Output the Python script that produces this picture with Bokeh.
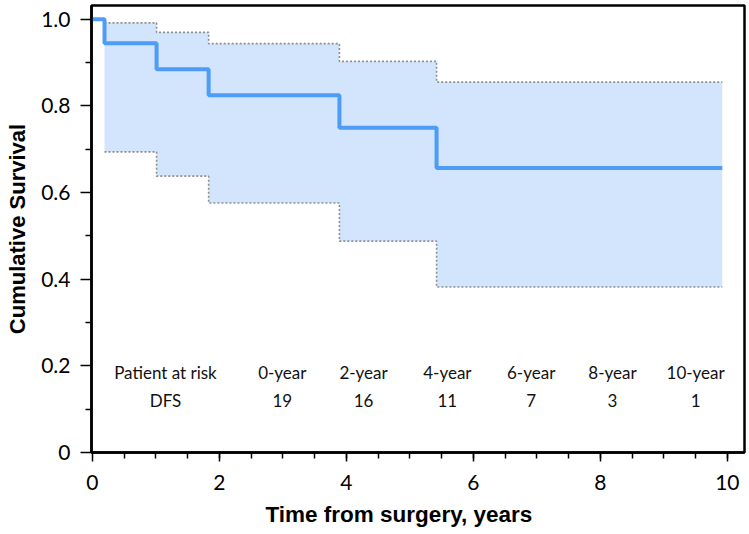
from bokeh.plotting import figure
from bokeh.models import Range1d, FixedTicker, Label, Title
from bokeh.embed import file_html
from bokeh.resources import INLINE

# Kaplan-Meier estimate (disease-free survival)
event_times = [0.0, 0.19, 1.01, 1.83, 3.89, 5.42]
survival = [1.0, 0.945, 0.885, 0.825, 0.75, 0.657]
follow_up_end = 9.92

# 95% confidence band, one value per interval starting at band_times[i]
band_times = [0.19, 1.01, 1.83, 3.89, 5.42]
ci_upper = [0.992, 0.97, 0.944, 0.903, 0.855]
ci_lower = [0.694, 0.638, 0.576, 0.488, 0.382]

# Numbers at risk
risk_headers = ["Patient at risk", "0-year", "2-year", "4-year", "6-year", "8-year", "10-year"]
risk_row = ["DFS", "19", "16", "11", "7", "3", "1"]

x_ticks = [0, 2, 4, 6, 8, 10]
y_ticks = [0, 0.2, 0.4, 0.6, 0.8, 1.0]

LINE_BLUE = "#4d9cf7"
BAND_BLUE = "#d2e5fc"
BAND_EDGE = "#8f8f8f"

p = figure(width=749, height=534, output_backend="svg", toolbar_location=None,
           x_range=Range1d(-0.015, 10.27), y_range=Range1d(0, 1.032),
           min_border_left=91, min_border_right=5, min_border_top=5, min_border_bottom=81)
p.grid.visible = False
p.background_fill_color = "white"
p.border_fill_color = "white"
p.outline_line_color = "black"
p.outline_line_width = 2.5

# stepped confidence band
bx, blo, bhi = [], [], []
ends = band_times[1:] + [follow_up_end]
for t0, t1, lo, hi in zip(band_times, ends, ci_lower, ci_upper):
    bx += [t0, t1]
    blo += [lo, lo]
    bhi += [hi, hi]
p.varea(x=bx, y1=blo, y2=bhi, fill_color=BAND_BLUE, fill_alpha=1.0)

for bound in (ci_upper, ci_lower):
    p.step(x=band_times + [follow_up_end], y=bound + [bound[-1]], mode="after",
           line_color=BAND_EDGE, line_width=1.6, line_dash="2 2")

# survival curve
p.step(x=event_times + [follow_up_end], y=survival + [survival[-1]], mode="after",
       line_color=LINE_BLUE, line_width=4)

# at-risk table drawn inside the plot area
col_x = [1.15, 2.99, 4.27, 5.59, 6.91, 8.19, 9.50]
for cx, head, val in zip(col_x, risk_headers, risk_row):
    p.add_layout(Label(x=cx, y=0.184, text=head, text_align="center", text_baseline="middle",
                       text_font="Lato", text_font_size="17px", text_color="#111111"))
    p.add_layout(Label(x=cx, y=0.120, text=val, text_align="center", text_baseline="middle",
                       text_font="Lato", text_font_size="17px", text_color="#111111"))

# axes
for ax in (p.xaxis[0], p.yaxis[0]):
    ax.axis_line_width = 2.5
    ax.axis_line_color = "black"
    ax.major_tick_line_color = "black"
    ax.minor_tick_line_color = "black"
    ax.major_tick_line_width = 1.5
    ax.minor_tick_line_width = 1.5
    ax.major_tick_in = 0
    ax.minor_tick_in = 0
    ax.major_label_text_font = "Lato"
    ax.major_label_text_font_size = "21px"
    ax.major_label_text_color = "black"

p.xaxis.ticker = FixedTicker(ticks=x_ticks, minor_ticks=[i * 0.5 for i in range(1, 21)])
p.xaxis.major_tick_out = 9
p.xaxis.minor_tick_out = 6
p.xaxis.major_label_standoff = 13
p.xaxis.axis_label = None

p.yaxis.ticker = FixedTicker(ticks=y_ticks, minor_ticks=[0.1, 0.3, 0.5, 0.7, 0.9])
p.yaxis.major_label_overrides = {0: "0", 1: "1.0"}
p.yaxis.major_tick_out = 11
p.yaxis.minor_tick_out = 6
p.yaxis.major_label_standoff = 10
p.yaxis.axis_label = "Cumulative Survival"
p.yaxis.axis_label_text_font = "Liberation Sans"
p.yaxis.axis_label_text_font_style = "bold"
p.yaxis.axis_label_text_font_size = "22px"
p.yaxis.axis_label_text_color = "black"
p.yaxis.axis_label_standoff = 8

x_title = Title(text="Time from surgery, years", align="left", offset=174,
                text_font="Liberation Sans", text_font_style="bold",
                text_font_size="22.5px", text_color="black", standoff=15)
p.add_layout(x_title, "below")

open("out.html", "w").write(file_html(p, INLINE))
